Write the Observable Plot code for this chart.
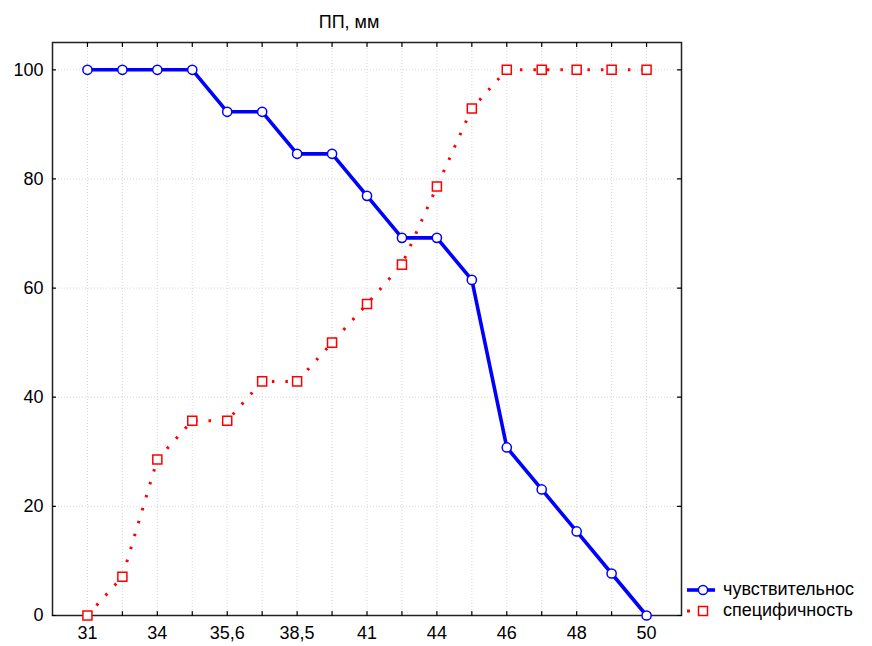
<!DOCTYPE html>
<html>
<head>
<meta charset="utf-8">
<script src="https://cdn.jsdelivr.net/npm/d3@7"></script>
<script src="https://cdn.jsdelivr.net/npm/@observablehq/plot@0.6"></script>
<style>
  html, body { margin: 0; padding: 0; background: #fff; }
  #wrap { position: relative; width: 872px; height: 646px; font-family: "Liberation Sans", Arial, sans-serif; }
  .leg { position: absolute; left: 685px; display: flex; align-items: center; font-size: 18px; color: #000; white-space: nowrap; }
  .leg svg { margin-right: 2px; }
</style>
</head>
<body>
<div id="wrap"></div>
<script>
// Data (x = position index of threshold category)
const positions = [0,1,2,3,4,5,6,7,8,9,10,11,12,13,14,15,16];
const tickLabels = ["31","34","35,6","38,5","41","44","46","48","50"]; // labels at every other position
const sensitivity = [100,100,100,100,92.3,92.3,84.6,84.6,76.9,69.2,69.2,61.5,30.8,23.1,15.4,7.7,0];
const specificity = [0,7.1,28.6,35.7,35.7,42.9,42.9,50,57.1,64.3,78.6,92.9,100,100,100,100,100];
const yTicks = [0,20,40,60,80,100];
const title = "ПП, мм";
const seriesNames = ["чувствительнос", "специфичность"];

const sens = positions.map((p, i) => ({x: p, y: sensitivity[i]}));
const spec = positions.map((p, i) => ({x: p, y: specificity[i]}));

const tickShape = {draw(ctx, l) { ctx.moveTo(0, 0); ctx.lineTo(0, -l); }};
const fmtX = d => (d % 2 === 0 ? tickLabels[d / 2] : "");

const chart = Plot.plot({
  width: 872,
  height: 646,
  marginLeft: 52,
  marginRight: 191,
  marginTop: 42,
  marginBottom: 31,
  style: {fontFamily: "Liberation Sans, Arial, sans-serif", fontSize: "18px", background: "#fff", color: "#000"},
  x: {domain: [-1, 17]},
  y: {domain: [0, 105]},
  marks: [
    Plot.ruleX(positions, {x: d => d, stroke: "#d8d8d8", strokeDasharray: "1,2"}),
    Plot.ruleY(yTicks.filter(d => d > 0), {y: d => d, stroke: "#d8d8d8", strokeDasharray: "1,2"}),
    Plot.frame({stroke: "#222", strokeWidth: 1.5}),
    // inward ticks
    Plot.vector(positions, {x: d => d, frameAnchor: "bottom", anchor: "start", length: 4, rotate: 0, shape: tickShape, stroke: "#000", strokeWidth: 1.2}),
    Plot.vector(positions, {x: d => d, frameAnchor: "top", anchor: "start", length: 4, rotate: 180, shape: tickShape, stroke: "#000", strokeWidth: 1.2}),
    Plot.vector(yTicks, {y: d => d, frameAnchor: "left", anchor: "start", length: 3, rotate: 90, shape: tickShape, stroke: "#000", strokeWidth: 1.2}),
    Plot.vector(yTicks, {y: d => d, frameAnchor: "right", anchor: "start", length: 4, rotate: -90, shape: tickShape, stroke: "#000", strokeWidth: 1.2}),
    Plot.axisX(positions, {tickSize: 0, tickPadding: 11, tickFormat: fmtX, fontSize: 18, label: null}),
    Plot.axisY(yTicks, {tickSize: 0, tickPadding: 9, fontSize: 18, label: null}),
    // series
    Plot.line(sens, {x: "x", y: "y", stroke: "#0000ff", strokeWidth: 3.6, strokeLinejoin: "miter"}),
    Plot.dot(sens, {x: "x", y: "y", r: 4.6, stroke: "#0000ff", strokeWidth: 1.5, fill: "#fff"}),
    Plot.line(spec, {x: "x", y: "y", stroke: "#ff0000", strokeWidth: 3, strokeDasharray: "2.5,11", strokeLinecap: "butt"}),
    Plot.dot(spec, {x: "x", y: "y", symbol: "square", r: 5.1, stroke: "#ff0000", strokeWidth: 1.5, fill: "#fff"}),
    Plot.text([title], {frameAnchor: "top", dx: -18, dy: -15, lineAnchor: "bottom", text: d => d, fontSize: 18, fill: "#000"})
  ]
});

const wrap = document.getElementById("wrap");
wrap.appendChild(chart);

const leg1 = document.createElement("div");
leg1.className = "leg";
leg1.style.top = "579px";
leg1.innerHTML = `<svg width="36" height="20"><line x1="2" y1="10" x2="30" y2="10" stroke="#0000ff" stroke-width="3.6"/><circle cx="18" cy="10" r="4.6" fill="#fff" stroke="#0000ff" stroke-width="1.5"/></svg><span>${seriesNames[0]}</span>`;
const leg2 = document.createElement("div");
leg2.className = "leg";
leg2.style.top = "600px";
leg2.innerHTML = `<svg width="36" height="20"><rect x="2" y="8.5" width="3" height="3" fill="#ff0000"/><rect x="13.5" y="5.5" width="9" height="9" fill="#fff" stroke="#ff0000" stroke-width="1.5"/></svg><span>${seriesNames[1]}</span>`;
wrap.appendChild(leg1);
wrap.appendChild(leg2);
</script>
</body>
</html>
